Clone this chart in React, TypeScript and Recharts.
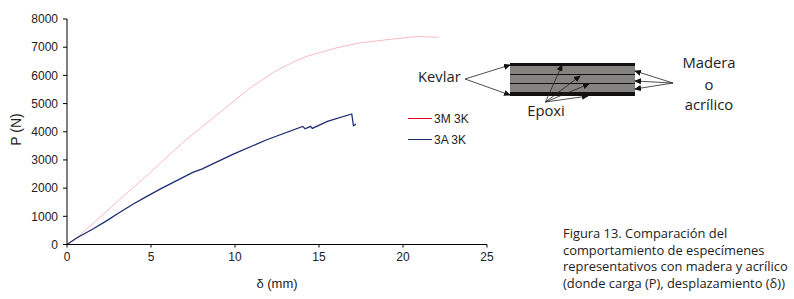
// Load-displacement curves for the 3M 3K and 3A 3K specimens, with the layup sketch and caption.
import { LineChart, Line, XAxis, YAxis, Legend } from "recharts"

const xTicks = [0, 5, 10, 15, 20, 25]
const yTicks = [0, 1000, 2000, 3000, 4000, 5000, 6000, 7000, 8000]

const madera = [
  { x: 0, y: 0 }, { x: 0.58, y: 240 }, { x: 1.57, y: 760 }, { x: 2.56, y: 1290 }, { x: 3.75, y: 1920 },
  { x: 4.94, y: 2545 }, { x: 6.92, y: 3633 }, { x: 8, y: 4155 }, { x: 9.3, y: 4782 }, { x: 10.9, y: 5554 },
  { x: 12.28, y: 6109 }, { x: 13.47, y: 6477 }, { x: 14.3, y: 6680 }, { x: 15.06, y: 6810 }, { x: 16, y: 6970 },
  { x: 17.4, y: 7150 }, { x: 19.4, y: 7290 }, { x: 20.8, y: 7378 }, { x: 22.15, y: 7350 },
]

const acrilico = [
  { x: 0, y: 0 }, { x: 0.6, y: 240 }, { x: 1.57, y: 560 }, { x: 2.3, y: 820 }, { x: 3.15, y: 1145 },
  { x: 3.92, y: 1429 }, { x: 4.7, y: 1690 }, { x: 5.54, y: 1962 }, { x: 7.52, y: 2567 }, { x: 8.02, y: 2673 },
  { x: 9.9, y: 3206 }, { x: 11.89, y: 3716 }, { x: 14.03, y: 4190 }, { x: 14.17, y: 4106 }, { x: 14.5, y: 4190 },
  { x: 14.6, y: 4118 }, { x: 15.5, y: 4370 }, { x: 16.95, y: 4630 }, { x: 17.05, y: 4213 }, { x: 17.2, y: 4272 },
]

const captionLines = [
  "Figura 13. Comparación del",
  "comportamiento de especímenes",
  "representativos con madera y acrílico",
  "(donde carga (P), desplazamiento (δ))",
]

const sketchFont = "'Open Sans', sans-serif"

function LegendBox({ payload }: any) {
  return (
    <div>
      {(payload || []).map((p: any) => (
        <div key={p.value} style={{ display: "flex", alignItems: "center", height: 21 }}>
          <div style={{ width: 24, height: 1, background: p.color, marginRight: 2 }} />
          <span style={{ fontSize: 12, color: "#222" }}>{p.value}</span>
        </div>
      ))}
    </div>
  )
}

function Arrow({ x1, y1, x2, y2 }: { x1: number; y1: number; x2: number; y2: number }) {
  return <line x1={x1} y1={y1} x2={x2} y2={y2} stroke="#222" strokeWidth={0.8} markerEnd="url(#head)" />
}

function Sketch() {
  return (
    <svg width={794} height={299} style={{ position: "absolute", left: 0, top: 0, pointerEvents: "none" }}>
      <defs>
        <marker id="head" markerWidth="7" markerHeight="6" refX="6" refY="3" orient="auto" markerUnits="userSpaceOnUse">
          <path d="M0,0 L7,3 L0,6 z" fill="#111" />
        </marker>
      </defs>
      <rect x={510} y={63} width={125} height={33} fill="#858380" />
      <rect x={510} y={63} width={125} height={3} fill="#111" />
      <rect x={510} y={92} width={125} height={4} fill="#111" />
      <line x1={510} y1={74.5} x2={635} y2={74.5} stroke="#111" />
      <line x1={510} y1={83.5} x2={635} y2={83.5} stroke="#111" />
      <Arrow x1={465} y1={79} x2={510} y2={65} />
      <Arrow x1={465} y1={79} x2={510} y2={95} />
      <Arrow x1={673} y1={83} x2={635} y2={71} />
      <Arrow x1={673} y1={83} x2={635} y2={81} />
      <Arrow x1={673} y1={83} x2={635} y2={89} />
      <Arrow x1={545.5} y1={102} x2={562} y2={65} />
      <Arrow x1={545.5} y1={102} x2={580} y2={76} />
      <Arrow x1={545.5} y1={102} x2={589} y2={84} />
      <Arrow x1={545.5} y1={102} x2={588} y2={96} />
      <g fontFamily={sketchFont} fontSize={14.8} fill="#222">
        <text x={418} y={82}>Kevlar</text>
        <text x={546} y={116} textAnchor="middle">Epoxi</text>
        <text x={709} y={68} textAnchor="middle">Madera</text>
        <text x={709} y={90} textAnchor="middle">o</text>
        <text x={709} y={110} textAnchor="middle">acrílico</text>
      </g>
      <g fontFamily={sketchFont} fontSize={12.9} fill="#222">
        {captionLines.map((line, i) => (
          <text key={line} x={563} y={238 + i * 16.6}>{line}</text>
        ))}
      </g>
    </svg>
  )
}

export default function App() {
  const tick = { fill: "#222", fontSize: 12, fontFamily: "'Liberation Sans', Arial, sans-serif" }
  return (
    <div style={{ position: "absolute", left: 0, top: 0, width: 794, height: 299, fontFamily: "'Liberation Sans', Arial, sans-serif" }}>
      <LineChart width={794} height={299} margin={{ top: 19, right: 307, bottom: 0, left: 0 }}>
        <XAxis
          dataKey="x"
          type="number"
          domain={[0, 25]}
          ticks={xTicks}
          tick={tick}
          tickSize={3}
          tickMargin={5}
          stroke="#000"
          height={54.5}
          label={{ value: "δ (mm)", position: "insideBottom", offset: 11, fill: "#222", fontSize: 13 }}
        />
        <YAxis
          type="number"
          domain={[0, 8000]}
          ticks={yTicks}
          tick={tick}
          tickSize={4}
          tickMargin={5}
          stroke="#000"
          width={67}
          label={{ value: "P (N)", angle: -90, position: "insideLeft", offset: 16, dy: 14, fill: "#222", fontSize: 14 }}
        />
        <Legend
          layout="vertical"
          align="center"
          verticalAlign="middle"
          itemSorter={null}
          wrapperStyle={{ left: 408, top: 108, width: 80 }}
          content={<LegendBox />}
        />
        <Line
          name="3M 3K"
          data={madera}
          dataKey="y"
          type="linear"
          stroke="#e0002a"
          strokeOpacity={0.27}
          strokeWidth={1}
          dot={false}
          isAnimationActive={false}
        />
        <Line
          name="3A 3K"
          data={acrilico}
          dataKey="y"
          type="linear"
          stroke="#1c2c70"
          strokeWidth={1.3}
          dot={false}
          isAnimationActive={false}
        />
      </LineChart>
      <Sketch />
    </div>
  )
}
